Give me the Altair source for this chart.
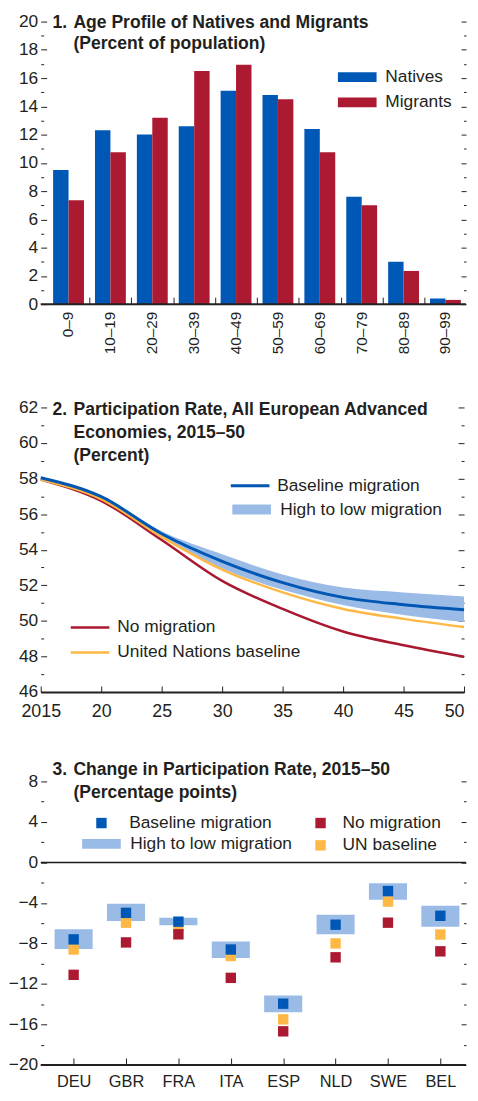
import altair as alt
import pandas as pd

FONT = "Liberation Sans, Arial, Helvetica, sans-serif"
TXT = "#231f20"
NAT_BLUE = "#0058b6"
MIG_RED = "#ab1a30"
LINE_BLUE = "#0057b3"
LINE_RED = "#a8182e"
BAND = "#9bbbe7"
GOLD = "#fdb845"

# ---------------- data ----------------
age_groups = ["0–9", "10–19", "20–29", "30–39", "40–49", "50–59",
              "60–69", "70–79", "80–89", "90–99"]
natives = [9.5, 12.3, 12.0, 12.6, 15.1, 14.8, 12.4, 7.6, 3.0, 0.4]
migrants = [7.35, 10.75, 13.2, 16.5, 16.95, 14.5, 10.75, 7.0, 2.35, 0.3]

years = [2015, 2020, 2025, 2030, 2035, 2040, 2045, 2050]
baseline = [58.05, 56.98, 54.9, 53.35, 52.15, 51.32, 50.91, 50.63]
high_mig = [58.05, 57.03, 55.04, 53.75, 52.6, 51.87, 51.6, 51.37]
low_mig = [58.05, 56.93, 54.76, 52.95, 51.75, 50.89, 50.33, 49.93]
no_mig = [57.95, 56.75, 54.55, 52.25, 50.67, 49.4, 48.63, 47.98]
un_base = [57.95, 56.85, 54.72, 52.88, 51.6, 50.67, 50.11, 49.65]

countries = ["DEU", "GBR", "FRA", "ITA", "ESP", "NLD", "SWE", "BEL"]
c_base = [-7.6, -4.98, -5.85, -8.6, -13.95, -6.15, -2.83, -5.27]
c_high = [-6.6, -4.07, -5.46, -7.8, -13.14, -5.17, -2.05, -4.29]
c_low = [-8.56, -5.79, -6.21, -9.43, -14.8, -7.09, -3.68, -6.34]
c_un = [-8.6, -5.95, -6.4, -9.24, -15.5, -8.0, -3.87, -7.12]
c_nomig = [-11.1, -7.9, -7.1, -11.4, -16.68, -9.37, -5.95, -8.78]

W1, H1 = 429, 285
W2, H2 = 427, 287
W3, H3 = 429, 286


def tick_size(mod, big, small):
    return {"condition": {"test": f"datum.value % {mod} === 0", "value": big}, "value": small}


def lab_axis_y(values):
    return alt.Axis(orient="left", values=values, ticks=False, tickSize=0, domain=False,
                    labelPadding=3, labelFont=FONT, labelFontSize=17.5, labelColor=TXT,
                    title=None, grid=False)


def tick_axis_y(values, mod, orient, offset, big, small):
    return alt.Axis(orient=orient, offset=offset, values=values, labels=False, domain=False,
                    ticks=True, tickSize=tick_size(mod, big, small), tickColor=TXT,
                    tickWidth=1, title=None, grid=False)


def tick_axis_x(values, H, size, tick_offset=None):
    kw = dict(orient="top", offset=-H, values=values, labels=False, domain=False,
              ticks=True, tickSize=size, tickColor=TXT, tickWidth=1, title=None, grid=False)
    if tick_offset is not None:
        kw["tickOffset"] = tick_offset
    return alt.Axis(**kw)


def legend(x, y, symbol, size, sw, offset, rowpad=0):
    return alt.Legend(orient="none", legendX=x, legendY=y, title=None, direction="vertical",
                      symbolType=symbol, symbolSize=size, symbolStrokeWidth=sw,
                      labelFont=FONT, labelFontSize=17.5, labelColor=TXT,
                      labelOffset=offset, rowPadding=rowpad, padding=0, labelLimit=300)


def titles(num, body, y0, lh):
    t1 = alt.Chart(pd.DataFrame({"t": [num]})).mark_text(
        align="left", baseline="alphabetic", font=FONT, fontSize=17.7,
        fontWeight="bold", color=TXT).encode(text="t:N", x=alt.value(12), y=alt.value(y0))
    t2 = alt.Chart(pd.DataFrame({"t": [body]})).mark_text(
        align="left", baseline="alphabetic", font=FONT, fontSize=17.7,
        fontWeight="bold", color=TXT, lineBreak="\n", lineHeight=lh).encode(
        text="t:N", x=alt.value(33), y=alt.value(y0))
    return [t1, t2]


def hrule(value, scale, x1, x2, width, color):
    return alt.Chart(pd.DataFrame({"v": [value]})).mark_rule(
        strokeWidth=width, color=color).encode(
        y=alt.Y("v:Q", scale=scale, axis=None), x=alt.value(x1), x2=alt.value(x2))


WIDE_RECT = "M-3.9,-1H3.9V1H-3.9Z"
WIDE_LINE = "M-3.9,0H3.9"

# ---------------- panel 1 ----------------
df1 = pd.DataFrame({"age": age_groups * 2,
                    "group": ["Natives"] * 10 + ["Migrants"] * 10,
                    "value": natives + migrants})
x1 = alt.Scale(range=[12.5, 423.8], paddingInner=0.263, paddingOuter=0)
y1 = alt.Scale(domain=[0, 20], nice=False, zero=False)
y1_major = list(range(0, 21, 2))
y1_all = list(range(0, 21))

bars = alt.Chart(df1).mark_bar().encode(
    x=alt.X("age:N", sort=age_groups, scale=x1,
            axis=alt.Axis(orient="bottom", labelAngle=270, ticks=False, tickSize=0,
                          domain=False, labelPadding=7, labelFont=FONT, labelFontSize=15.5,
                          labelColor=TXT, title=" ", titleFontSize=4, titlePadding=0,
                          grid=False)),
    xOffset=alt.XOffset("group:N", sort=["Natives", "Migrants"],
                        scale=alt.Scale(paddingInner=0, paddingOuter=0)),
    y=alt.Y("value:Q", scale=y1, axis=lab_axis_y(y1_major)),
    color=alt.Color("group:N", scale=alt.Scale(domain=["Natives", "Migrants"],
                                               range=[NAT_BLUE, MIG_RED]),
                    legend=legend(310.5, 47.25, WIDE_RECT, 100, 0, 19.5, 6.5)),
)
hA1 = alt.Chart(df1).mark_point(opacity=0).encode(
    x=alt.X("age:N", sort=age_groups, axis=tick_axis_x(age_groups[:-1], H1, 7, 21.1)),
    y=alt.Y("value:Q", scale=y1, axis=tick_axis_y(y1_all, 2, "right", -W1, 6, 3)))
hB1 = alt.Chart(df1).mark_point(opacity=0).encode(
    x=alt.X("age:N", sort=age_groups, axis=None),
    y=alt.Y("value:Q", scale=y1, axis=tick_axis_y(y1_all, 2, "left", -W1, 5, 2.5)))

p1 = alt.layer(
    bars, hrule(0, y1, 0, W1, 2, TXT), hA1, hB1,
    *titles("1.", "Age Profile of Natives and Migrants\n(Percent of population)", 6, 22)
).resolve_axis(x="independent", y="independent").properties(width=W1, height=H1)

# ---------------- panel 2 ----------------
df2b = pd.DataFrame({"year": years, "high": high_mig, "low": low_mig,
                     "band": ["High to low migration"] * len(years)})
df2base = pd.DataFrame({"year": years, "value": baseline,
                        "s": ["Baseline migration"] * len(years)})
df2o = pd.DataFrame({"year": years * 2, "value": no_mig + un_base,
                     "s": ["No migration"] * len(years) + ["United Nations baseline"] * len(years)})
x2 = alt.Scale(domain=[2015, 2050], nice=False, zero=False)
y2 = alt.Scale(domain=[46, 62], nice=False, zero=False)
y2_major = list(range(46, 63, 2))
y2_all = list(range(46, 63))

band2 = alt.Chart(df2b).mark_area(interpolate="monotone", opacity=1).encode(
    x=alt.X("year:Q", scale=x2, axis=None),
    y=alt.Y("high:Q", scale=y2, axis=None), y2="low:Q",
    color=alt.Color("band:N", scale=alt.Scale(domain=["High to low migration"], range=[BAND]),
                    legend=legend(204, 94.25, WIDE_RECT, 100, 0, 20)))
others2 = alt.Chart(df2o).mark_line(interpolate="monotone", strokeWidth=2.5).encode(
    x=alt.X("year:Q", scale=x2, axis=None),
    y=alt.Y("value:Q", scale=y2, axis=None),
    color=alt.Color("s:N", scale=alt.Scale(domain=["No migration", "United Nations baseline"],
                                           range=[LINE_RED, GOLD]),
                    legend=legend(41, 213.25, WIDE_LINE, 100, 2.5, 18.7, 6.2)))
base2 = alt.Chart(df2base).mark_line(interpolate="monotone", strokeWidth=3).encode(
    x=alt.X("year:Q", scale=x2,
            axis=alt.Axis(orient="bottom", values=years,
                          labelExpr="datum.value == 2015 ? '2015' : substring(toString(datum.value), 2, 4)",
                          labelAlign={"condition": {"test": "datum.value === 2050", "value": "right"},
                                      "value": "center"},
                          ticks=False, tickSize=0, domain=True, domainColor=TXT, domainWidth=2,
                          labelPadding=11, labelFont=FONT, labelFontSize=18, labelColor=TXT,
                          labelFlush=False, labelOverlap=False, title=None, grid=False, zindex=1)),
    y=alt.Y("value:Q", scale=y2, axis=lab_axis_y(y2_major)),
    color=alt.Color("s:N", scale=alt.Scale(domain=["Baseline migration"], range=[LINE_BLUE]),
                    legend=legend(202.5, 70.25, WIDE_LINE, 100, 3, 18.5)))
hA2 = alt.Chart(df2base).mark_point(opacity=0).encode(
    x=alt.X("year:Q", scale=x2, axis=tick_axis_x(years, H2, 6)),
    y=alt.Y("value:Q", scale=y2, axis=tick_axis_y(y2_all, 2, "right", -W2, 6, 3)))
hB2 = alt.Chart(df2base).mark_point(opacity=0).encode(
    x=alt.X("year:Q", scale=x2, axis=None),
    y=alt.Y("value:Q", scale=y2, axis=tick_axis_y(y2_all, 2, "left", -W2, 6, 3)))

p2 = alt.layer(
    band2, others2, base2, hA2, hB2,
    *titles("2.", "Participation Rate, All European Advanced\nEconomies, 2015–50\n(Percent)", 7.3, 23.3)
).resolve_axis(x="independent", y="independent").resolve_scale(color="independent").properties(
    width=W2, height=H2)

# ---------------- panel 3 ----------------
df3band = pd.DataFrame({"c": countries, "high": c_high, "low": c_low,
                        "band": ["High to low migration"] * len(countries)})
df3o = pd.DataFrame({"c": countries * 2, "value": c_un + c_nomig,
                     "s": ["UN baseline"] * len(countries) + ["No migration"] * len(countries)})
df3base = pd.DataFrame({"c": countries, "value": c_base,
                        "s": ["Baseline migration"] * len(countries)})
x3 = alt.Scale(type="point", range=[33.2, 403.1], padding=0)
y3 = alt.Scale(domain=[-20, 8], nice=False, zero=False)
y3_major = list(range(-20, 9, 4))
y3_all = list(range(-20, 9, 2))

band3 = alt.Chart(df3band).mark_bar(size=38.4).encode(
    x=alt.X("c:N", sort=countries, scale=x3, axis=None),
    y=alt.Y("high:Q", scale=y3, axis=None), y2="low:Q",
    color=alt.Color("band:N", scale=alt.Scale(domain=["High to low migration"], range=[BAND]),
                    legend=legend(52.5, 54.25, WIDE_RECT, 100, 0, 20.2)))
others3 = alt.Chart(df3o).mark_square(size=110, opacity=1).encode(
    x=alt.X("c:N", sort=countries, scale=x3, axis=None),
    y=alt.Y("value:Q", scale=y3, axis=None),
    color=alt.Color("s:N", scale=alt.Scale(domain=["No migration", "UN baseline"],
                                           range=[MIG_RED, GOLD]),
                    legend=legend(273.5, 33.25, "square", 110, 0, 13.5, 3.5)))
base3 = alt.Chart(df3base).mark_square(size=110, opacity=1).encode(
    x=alt.X("c:N", sort=countries, scale=x3,
            axis=alt.Axis(orient="bottom", ticks=False, tickSize=0, domain=False,
                          labelPadding=8.5, labelFont=FONT, labelFontSize=16.5,
                          labelColor=TXT, labelAngle=0, title=None, grid=False)),
    y=alt.Y("value:Q", scale=y3, axis=lab_axis_y(y3_major)),
    color=alt.Color("s:N", scale=alt.Scale(domain=["Baseline migration"], range=[NAT_BLUE]),
                    legend=legend(52.5, 33.25, "square", 110, 0, 19.2)))
hA3 = alt.Chart(df3base).mark_point(opacity=0).encode(
    x=alt.X("c:N", sort=countries, axis=tick_axis_x(countries, H3, 7)),
    y=alt.Y("value:Q", scale=y3, axis=tick_axis_y(y3_all, 4, "right", -W3, 6, 3)))
hB3 = alt.Chart(df3base).mark_point(opacity=0).encode(
    x=alt.X("c:N", sort=countries, axis=None),
    y=alt.Y("value:Q", scale=y3, axis=tick_axis_y(y3_all, 4, "left", -W3, 5, 2.5)))

p3 = alt.layer(
    hrule(0, y3, 0, W3, 1.5, "#1a1a1a"), hrule(-20, y3, 0, W3, 2, TXT),
    band3, others3, base3, hA3, hB3,
    *titles("3.", "Change in Participation Rate, 2015–50\n(Percentage points)", -6.3, 23.3)
).resolve_axis(x="independent", y="independent").resolve_scale(color="independent").properties(
    width=W3, height=H3)

chart = alt.vconcat(p1, p2, p3, spacing=40.2).resolve_scale(color="independent").properties(
    padding=0).configure_view(stroke=None)

chart.save("out.html", embed_options={"renderer": "svg", "actions": False})
